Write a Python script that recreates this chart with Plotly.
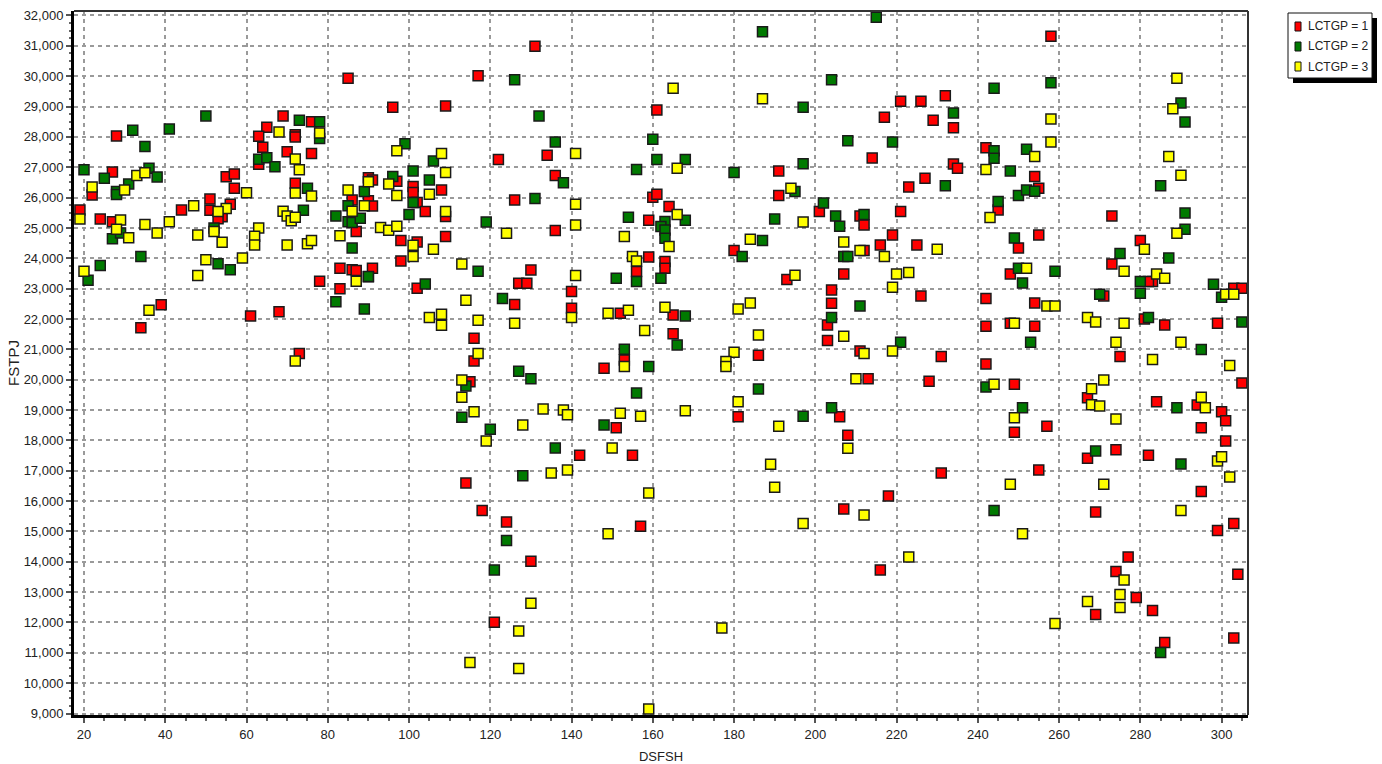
import plotly.graph_objects as go

group_names = ["LCTGP = 1", "LCTGP = 2", "LCTGP = 3"]
group_colors = ["#ff0000", "#007a00", "#ffff00"]
x_tick_values = list(range(20, 301, 20))
y_tick_values = list(range(9000, 32001, 1000))

red_x = [22,19,24,27,28,27,44,39,34,55,57,57,51,51,56,54,53,61,68,69,76,72,65,63,64,70,76,63,72,72,73,78,85,83,86,87,83,86,90,90,87,
         96,109,117,131,161,122,134,136,126,159,160,161,164,97,91,91,101,101,102,104,108,109,98,102,109,98,91,102,136,130,127,129,140,140,126,152,159,163,163,156,116,116,148,153,165,165,115,118,124,114,142,155,151,157,130,121,
         221,226,232,217,229,234,214,234,235,191,227,223,191,201,221,211,212,219,216,225,212,180,207,193,204,204,226,203,203,211,231,186,213,228,181,206,208,231,218,207,216,
         258,242,254,255,245,273,255,250,280,273,248,271,242,254,283,282,303,305,281,286,299,242,248,254,275,242,249,305,267,284,300,301,295,294,249,257,301,274,267,282,255,295,269,303,299,277,274,304,279,283,269,303,286]
red_y = [26085,25590,25295,25200,28030,26843,25590,22470,21710,26690,26780,26310,25950,25580,25780,25370,25300,22100,22240,28690,28500,28070,28320,28020,27660,27510,27450,27100,28000,26470,20860,23240,29930,23670,25920,24880,23000,23620,26650,25900,23600,
         28975,29019,30018,30984,28887,27251,27394,26724,25922,25253,26010,26109,25710,26537,26581,25725,26362,26164,25835,25538,26252,25373,24583,24539,24714,23913,23671,23013,24912,23617,23177,23177,22903,22354,22474,22189,24045,23891,23671,23562,21366,20619,20378,20652,21510,22130,19935,15686,15313,16597,17509,17509,18420,15170,14017,12008,
         29173,29173,29359,28645,28547,28305,27306,27108,26965,26878,26636,26351,26065,25538,25538,25395,25099,24769,24440,24440,24253,24253,23485,23298,22958,22519,22760,21805,21289,20949,20762,20806,20034,19946,18782,18782,18167,16927,16169,15741,13732,
         31314,27646,26691,26307,25593,25395,24769,24341,24583,23814,23485,22760,22672,22530,23232,23232,23012,23012,22003,21805,21860,21761,21860,21761,20762,20520,19847,19891,19408,19276,18947,18651,18420,19167,18266,18464,17981,17695,17410,17509,17026,16312,15642,15258,15027,14160,13677,13589,12820,12392,12260,11491,11338]

green_x = [27,29,34,53,56,24,21,20,25,28,28,31,36,38,32,35,41,50,52,73,78,78,63,65,67,75,74,89,90,82,89,85,82,85,86,88,86,
           126,132,136,160,161,156,99,106,101,96,105,131,138,101,100,119,154,117,90,104,123,151,156,162,153,159,127,163,162,163,163,
           114,130,156,113,120,148,136,128,124,121,
           215,187,204,197,234,208,219,168,197,180,232,195,202,205,206,212,168,190,187,182,207,208,211,204,168,166,221,186,197,204,
           244,258,290,291,244,244,252,248,285,250,252,254,245,291,291,249,275,287,250,259,251,280,280,270,298,300,282,305,253,295,242,251,289,269,290,244,285]
green_y = [24640,24830,24060,23820,23620,23760,23280,26920,26640,26200,26100,26450,26970,26680,28220,27680,28260,28690,25000,28550,28500,27950,27260,27310,27020,26310,25580,26200,23390,25390,22330,25730,22570,25200,25180,25320,24340,
           29886,28689,27833,27921,27251,26922,27778,27207,26878,26691,26581,25966,26493,25835,25439,25198,25351,23573,23397,23155,22672,23342,23232,23342,21004,20432,20276,25209,25044,24934,24660,
           19793,20034,19562,18760,18365,18508,17750,16839,14698,13732,
           31939,31467,29886,28975,28788,27877,27833,27251,27119,26823,26394,26197,25824,25395,25055,25439,25253,25297,24583,24056,24056,24056,22431,22046,22101,21146,21234,19694,18793,19079,
           29600,29787,29118,28492,27547,27295,27591,26878,26394,26065,26252,26208,25868,25494,24956,24670,24155,24012,23671,23572,23188,23232,22848,22815,23145,22716,22047,21904,21234,20996,19760,19079,19079,17652,17223,15686,11009]

yellow_x = [19,22,29,28,31,35,38,41,47,48,50,48,59,20,30,33,35,60,55,53,52,54,63,62,62,68,78,72,73,72,76,69,70,71,72,70,75,76,72,36,85,86,89,87,83,90,
            97,108,109,95,97,105,109,93,95,97,101,101,106,113,124,141,141,141,141,153,155,156,164,114,105,108,108,117,126,140,149,154,163,158,117,153,
            113,113,133,138,139,152,157,116,128,119,150,135,139,159,149,130,127,115,127,159,
            165,187,194,166,166,197,184,207,211,217,230,195,220,223,219,181,184,186,207,212,219,180,178,178,168,181,191,210,189,190,197,208,212,223,177,
            289,288,258,258,287,254,242,290,243,289,281,252,276,284,286,301,303,257,259,249,267,269,276,274,290,283,302,
            244,249,271,268,268,270,274,295,296,299,300,302,248,271,290,251,276,275,275,267,259]
yellow_y = [25295,26350,25260,24960,24680,25110,24830,25200,25730,24770,23950,23430,24010,23570,26250,26730,26820,26160,25640,25540,24880,24530,25000,24730,24440,28160,28130,27270,26920,26150,26050,25550,25390,25240,25350,24440,24480,24590,20620,22290,26250,25550,25730,23240,24740,26520,
            27547,27449,26823,26449,26065,26109,25538,25011,24923,25055,24429,24056,24297,23814,24824,27449,25780,25099,23430,24714,24056,23913,24385,22617,22046,22156,21794,21959,21860,22046,22189,22288,22387,21618,20861,20432,
            19990,19419,19035,19000,18848,18892,18793,18947,18508,17981,17750,16927,17026,16268,14928,12634,11722,10679,10482,9153,
            29600,29260,26307,26965,25439,25198,24627,24539,24253,24056,24297,23441,23485,23529,23046,22332,22530,21476,21432,20861,20949,20905,20597,20432,18980,19276,18464,20034,17212,16455,15258,17739,15543,14160,11821,
            29930,28931,28590,27833,27350,27350,26922,26735,25340,24824,24297,23672,23572,23485,23342,22815,22815,22431,22431,21860,22047,21904,21860,21234,21234,20663,20465,
            19847,18749,19990,19705,19178,19134,18705,19419,19079,17322,17465,16795,16554,16554,15686,14928,13402,12919,12491,12688,11964]

series = [(red_x, red_y), (green_x, green_y), (yellow_x, yellow_y)]

ML, MR, MT, MB = 74, 134, 11, 49
W, H = 1382, 764
PW, PH = W - ML - MR, H - MT - MB
def px(v): return (v - ML) / PW
def py(v): return 1 - (v - MT) / PH

fig = go.Figure()
for name, color, (xs, ys) in zip(group_names, group_colors, series):
    fig.add_trace(go.Scatter(
        x=xs, y=ys, mode="markers", name=name, cliponaxis=False, showlegend=False,
        marker=dict(symbol="square", size=10, color=color,
                    line=dict(color="#1a1a1a", width=1.5)),
    ))

font = dict(family="Liberation Sans, Arial, sans-serif", size=13, color="#222222")
ytitle_font = dict(family="Liberation Sans, Arial, sans-serif", size=15, color="#222222")
grid = dict(showgrid=True, gridcolor="#9a9a9a", gridwidth=1.5, griddash="4px,4px",
            zeroline=False, showline=True, linecolor="#000000", linewidth=3,
            ticks="outside", ticklen=5, tickcolor="#555555", tickwidth=1.5, automargin=False)

shapes = [
    dict(type="line", xref="paper", yref="paper", x0=0, x1=1, y0=1, y1=1,
         line=dict(color="#333333", width=2), layer="above"),
    dict(type="line", xref="paper", yref="paper", x0=1, x1=1, y0=0, y1=1,
         line=dict(color="#333333", width=2), layer="above"),
    # legend shadow and box
    dict(type="rect", xref="paper", yref="paper", x0=px(1293), x1=px(1377), y0=py(83), y1=py(18),
         fillcolor="#000000", line=dict(width=0)),
    dict(type="rect", xref="paper", yref="paper", x0=px(1288), x1=px(1372), y0=py(78), y1=py(13),
         fillcolor="#ffffff", line=dict(color="#111111", width=1)),
]
annotations = []
for i, (name, color) in enumerate(zip(group_names, group_colors)):
    cy = 26.5 + i * 20
    shapes.append(dict(type="rect", xref="paper", yref="paper", x0=px(1295), x1=px(1301),
                       y0=py(cy + 4.5), y1=py(cy - 4.5), fillcolor=color,
                       line=dict(color="#111111", width=1)))
    annotations.append(dict(text=name, xref="paper", yref="paper", x=px(1306), y=py(cy),
                            xanchor="left", yanchor="middle", showarrow=False, align="left",
                            font=dict(family="Liberation Sans, Arial, sans-serif",
                                      size=12, color="#222222")))

fig.update_layout(
    width=W, height=H, autosize=False,
    margin=dict(l=ML, r=MR, t=MT, b=MB, autoexpand=False),
    paper_bgcolor="white", plot_bgcolor="white", font=font,
    showlegend=False, shapes=shapes, annotations=annotations,
)
fig.update_xaxes(range=[17.54, 306.5], tickvals=x_tick_values,
                 title=dict(text="DSFSH", standoff=12, font=font),
                 minor=dict(dtick=5, ticks="outside", ticklen=3, tickcolor="#666666", showgrid=False), **grid)
fig.update_yaxes(range=[8952, 32148], tickvals=y_tick_values, tickformat=",",
                 title=dict(text="FSTPJ", standoff=1, font=ytitle_font),
                 minor=dict(dtick=250, ticks="outside", ticklen=2, tickcolor="#666666", showgrid=False), **grid)

fig.write_html("out.html", config=dict(displayModeBar=False),
               post_script="document.body.style.margin='0';document.documentElement.style.overflow='hidden';")
